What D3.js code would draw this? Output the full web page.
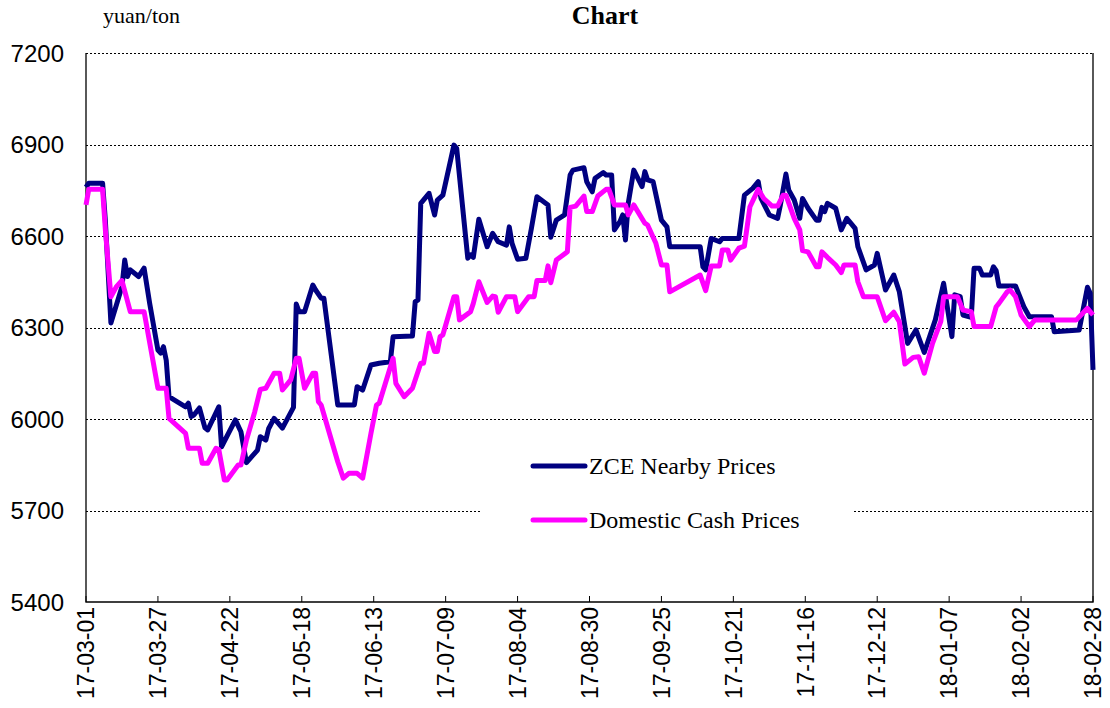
<!DOCTYPE html>
<html>
<head>
<meta charset="utf-8">
<script src="https://cdn.jsdelivr.net/npm/d3@7"></script>
<style>
  body { margin: 0; background: #fff; }
  svg { display: block; }
</style>
</head>
<body>
<div id="chart"></div>
<script>
// ZCE nearby futures, vertices
var zceDates = ["2017-03-01","2017-03-02","2017-03-07","2017-03-08","2017-03-10","2017-03-14","2017-03-15","2017-03-16","2017-03-17","2017-03-20",
  "2017-03-22","2017-03-24","2017-03-27","2017-03-28","2017-03-29","2017-03-30","2017-03-31","2017-04-02","2017-04-06","2017-04-07",
  "2017-04-08","2017-04-09","2017-04-11","2017-04-13","2017-04-14","2017-04-18","2017-04-19","2017-04-24","2017-04-26","2017-04-28",
  "2017-05-02","2017-05-03","2017-05-05","2017-05-06","2017-05-08","2017-05-11","2017-05-15","2017-05-16","2017-05-17","2017-05-19",
  "2017-05-22","2017-05-23","2017-05-25","2017-05-26","2017-05-31","2017-06-06","2017-06-07","2017-06-09","2017-06-12","2017-06-15",
  "2017-06-19","2017-06-20","2017-06-27","2017-06-28","2017-06-29","2017-06-30","2017-07-03","2017-07-05","2017-07-06","2017-07-08",
  "2017-07-12","2017-07-13","2017-07-17","2017-07-18","2017-07-19","2017-07-21","2017-07-24","2017-07-26","2017-07-28","2017-07-31",
  "2017-08-01","2017-08-02","2017-08-04","2017-08-07","2017-08-09","2017-08-11","2017-08-15","2017-08-16","2017-08-18","2017-08-21",
  "2017-08-23","2017-08-24","2017-08-28","2017-08-29","2017-08-31","2017-09-01","2017-09-04","2017-09-05","2017-09-07","2017-09-08",
  "2017-09-10","2017-09-11","2017-09-12","2017-09-13","2017-09-15","2017-09-18","2017-09-19","2017-09-20","2017-09-22","2017-09-25",
  "2017-09-27","2017-09-28","2017-10-09","2017-10-10","2017-10-11","2017-10-13","2017-10-16","2017-10-17","2017-10-23","2017-10-25",
  "2017-10-28","2017-10-30","2017-10-31","2017-11-03","2017-11-06","2017-11-07","2017-11-09","2017-11-10","2017-11-12","2017-11-14",
  "2017-11-15","2017-11-17","2017-11-20","2017-11-21","2017-11-22","2017-11-23","2017-11-24","2017-11-27","2017-11-29","2017-12-01",
  "2017-12-04","2017-12-05","2017-12-08","2017-12-11","2017-12-12","2017-12-15","2017-12-18","2017-12-20","2017-12-23","2017-12-26",
  "2017-12-29","2018-01-02","2018-01-05","2018-01-08","2018-01-09","2018-01-11","2018-01-12","2018-01-15","2018-01-16","2018-01-18",
  "2018-01-19","2018-01-22","2018-01-23","2018-01-24","2018-01-25","2018-01-31","2018-02-03","2018-02-05","2018-02-13","2018-02-14",
  "2018-02-23","2018-02-26","2018-02-27","2018-02-28"];
var zceValues = [6760,6773,6773,6650,6315,6434,6521,6467,6489,6467,
  6495,6380,6226,6216,6237,6193,6073,6062,6040,6052,
  6008,6013,6036,5971,5964,6040,5909,5997,5958,5857,
  5898,5942,5931,5968,6002,5970,6038,6377,6352,6352,
  6439,6423,6396,6396,6046,6046,6106,6095,6177,6183,
  6188,6270,6272,6385,6390,6707,6740,6669,6718,6734,
  6898,6887,6527,6538,6530,6655,6565,6609,6581,6570,
  6630,6576,6524,6527,6625,6729,6702,6596,6652,6669,
  6800,6816,6824,6778,6745,6789,6808,6800,6800,6620,
  6647,6669,6587,6707,6816,6762,6811,6784,6778,6652,
  6630,6565,6565,6499,6489,6592,6581,6592,6592,6734,
  6756,6778,6723,6669,6658,6702,6803,6751,6718,6658,
  6723,6691,6652,6652,6694,6680,6707,6691,6620,6658,
  6625,6565,6489,6505,6543,6423,6472,6417,6248,6292,
  6218,6325,6445,6270,6407,6401,6341,6333,6494,6494,
  6472,6472,6499,6486,6436,6436,6368,6335,6335,6286,
  6292,6432,6412,6161];

// domestic cash prices
var cashDates = ["2017-03-01","2017-03-02","2017-03-07","2017-03-08","2017-03-10","2017-03-12","2017-03-14","2017-03-17","2017-03-22","2017-03-27",
  "2017-03-30","2017-03-31","2017-04-06","2017-04-07","2017-04-11","2017-04-12","2017-04-14","2017-04-17","2017-04-18","2017-04-20",
  "2017-04-21","2017-04-25","2017-04-26","2017-04-28","2017-05-01","2017-05-03","2017-05-05","2017-05-08","2017-05-10","2017-05-11",
  "2017-05-14","2017-05-16","2017-05-17","2017-05-19","2017-05-22","2017-05-23","2017-05-24","2017-05-25","2017-05-31","2017-06-02",
  "2017-06-04","2017-06-07","2017-06-09","2017-06-12","2017-06-14","2017-06-15","2017-06-20","2017-06-21","2017-06-24","2017-06-27",
  "2017-06-30","2017-07-01","2017-07-03","2017-07-05","2017-07-06","2017-07-07","2017-07-08","2017-07-12","2017-07-13","2017-07-14",
  "2017-07-18","2017-07-19","2017-07-21","2017-07-24","2017-07-26","2017-07-27","2017-07-28","2017-07-31","2017-08-03","2017-08-04",
  "2017-08-08","2017-08-10","2017-08-11","2017-08-14","2017-08-15","2017-08-16","2017-08-18","2017-08-22","2017-08-23","2017-08-25",
  "2017-08-28","2017-08-29","2017-08-31","2017-09-02","2017-09-05","2017-09-06","2017-09-08","2017-09-12","2017-09-13","2017-09-15",
  "2017-09-19","2017-09-20","2017-09-23","2017-09-25","2017-09-27","2017-09-28","2017-10-09","2017-10-11","2017-10-13","2017-10-16",
  "2017-10-17","2017-10-19","2017-10-20","2017-10-23","2017-10-25","2017-10-27","2017-10-30","2017-11-01","2017-11-04","2017-11-06",
  "2017-11-08","2017-11-09","2017-11-12","2017-11-14","2017-11-15","2017-11-17","2017-11-20","2017-11-21","2017-11-22","2017-11-24",
  "2017-11-27","2017-11-29","2017-11-30","2017-12-04","2017-12-05","2017-12-07","2017-12-12","2017-12-15","2017-12-18","2017-12-20",
  "2017-12-22","2017-12-25","2017-12-27","2017-12-29","2018-01-01","2018-01-04","2018-01-05","2018-01-10","2018-01-12","2018-01-15",
  "2018-01-16","2018-01-22","2018-01-24","2018-01-25","2018-01-28","2018-01-29","2018-01-31","2018-02-02","2018-02-05","2018-02-07",
  "2018-02-22","2018-02-26","2018-02-28"];
var cashValues = [6702,6753,6753,6620,6401,6434,6454,6352,6352,6101,
  6101,6002,5953,5904,5904,5855,5855,5904,5900,5800,
  5800,5849,5849,5931,6024,6097,6101,6150,6150,6095,
  6128,6199,6199,6101,6150,6150,6057,6046,5860,5806,
  5822,5822,5806,5953,6046,6052,6199,6117,6073,6101,
  6183,6183,6281,6221,6221,6270,6276,6401,6401,6325,
  6352,6379,6450,6382,6403,6401,6350,6401,6401,6352,
  6401,6401,6454,6454,6502,6447,6521,6548,6694,6698,
  6731,6680,6680,6731,6753,6753,6702,6702,6669,6702,
  6642,6636,6576,6505,6505,6417,6472,6421,6502,6502,
  6554,6554,6521,6560,6567,6696,6753,6723,6698,6698,
  6734,6734,6658,6620,6552,6548,6499,6499,6548,6530,
  6505,6480,6505,6505,6450,6401,6401,6322,6350,6319,
  6180,6202,6204,6150,6248,6320,6401,6401,6357,6352,
  6303,6303,6368,6379,6417,6423,6401,6341,6303,6325,
  6325,6363,6341];

var yTicks = [5400,5700,6000,6300,6600,6900,7200];
var xTickDates = ["2017-03-01","2017-03-27","2017-04-22","2017-05-18","2017-06-13","2017-07-09","2017-08-04",
  "2017-08-30","2017-09-25","2017-10-21","2017-11-16","2017-12-12","2018-01-07","2018-02-02","2018-02-28"];

var seriesNames = ["ZCE Nearby Prices","Domestic Cash Prices"];
var seriesColors = ["#000080","#ff00ff"];

var width = 1110, height = 708;
var plotLeft = 86, plotRight = 1093, plotTop = 53, plotBottom = 602;

var parse = d3.timeParse("%Y-%m-%d");
var fmt = d3.timeFormat("%y-%m-%d");

var x = d3.scaleTime().domain([parse("2017-03-01"), parse("2018-02-28")]).range([plotLeft, plotRight]);
var y = d3.scaleLinear().domain([5400, 7200]).range([plotBottom, plotTop]);

var svg = d3.select("#chart").append("svg").attr("width", width).attr("height", height);

// gridlines
svg.append("g").selectAll("line")
  .data(yTicks.filter(function(d) { return d > 5400; }))
  .join("line")
  .attr("x1", plotLeft).attr("x2", plotRight)
  .attr("y1", function(d) { return Math.round(y(d)) + 0.5; }).attr("y2", function(d) { return Math.round(y(d)) + 0.5; })
  .attr("stroke", "#000").attr("stroke-width", 1).attr("stroke-dasharray", "2,2");

// frame: left, bottom, right
svg.append("path")
  .attr("d", "M" + plotLeft + "," + plotTop + "V" + plotBottom + "H" + plotRight + "V" + plotTop)
  .attr("fill", "none").attr("stroke", "#000").attr("stroke-width", 1.3);

// y axis labels
svg.append("g").selectAll("text")
  .data(yTicks).join("text")
  .attr("x", 64).attr("y", function(d) { return y(d); })
  .attr("dy", "0.36em").attr("text-anchor", "end")
  .style("font-family", "Liberation Sans, Arial, sans-serif").style("font-size", "24px")
  .text(function(d) { return d; });

// x ticks
var xt = svg.append("g");
xt.selectAll("line")
  .data(xTickDates).join("line")
  .attr("x1", function(d) { return x(parse(d)); }).attr("x2", function(d) { return x(parse(d)); })
  .attr("y1", plotBottom).attr("y2", plotBottom - 6)
  .attr("stroke", "#000").attr("stroke-width", 1);
xt.selectAll("text")
  .data(xTickDates).join("text")
  .attr("transform", function(d) { return "translate(" + x(parse(d)) + "," + (plotBottom + 5) + ") rotate(-90)"; })
  .attr("dy", "0.36em").attr("text-anchor", "end")
  .style("font-family", "Liberation Sans, Arial, sans-serif").style("font-size", "23px")
  .text(function(d) { return fmt(parse(d)); });

// lines
var line = d3.line()
  .x(function(d) { return x(d.date); })
  .y(function(d) { return y(d.value); });

var zce = zceDates.map(function(d, i) { return {date: parse(d), value: zceValues[i]}; });
var cash = cashDates.map(function(d, i) { return {date: parse(d), value: cashValues[i]}; });

[zce, cash].forEach(function(s, i) {
  svg.append("path").datum(s)
    .attr("d", line)
    .attr("fill", "none")
    .attr("stroke", seriesColors[i])
    .attr("stroke-width", 5)
    .attr("stroke-linejoin", "round");
});

// legend
var lg = svg.append("g");
lg.append("rect").attr("x", 480).attr("y", 440).attr("width", 372).attr("height", 106).attr("fill", "#fff");
seriesNames.forEach(function(name, i) {
  var ly = 466 + i * 54;
  lg.append("line").attr("x1", 533).attr("x2", 585).attr("y1", ly).attr("y2", ly)
    .attr("stroke", seriesColors[i]).attr("stroke-width", 5).attr("stroke-linecap", "round");
  lg.append("text").attr("x", 589).attr("y", ly + 8)
    .style("font-family", "Liberation Serif, Times New Roman, serif").style("font-size", "24px")
    .text(name);
});

// titles
svg.append("text").attr("x", 605).attr("y", 24).attr("text-anchor", "middle")
  .style("font-family", "Liberation Serif, Times New Roman, serif").style("font-size", "26px").style("font-weight", "bold")
  .text("Chart");
svg.append("text").attr("x", 103).attr("y", 23)
  .style("font-family", "Liberation Serif, Times New Roman, serif").style("font-size", "22px")
  .text("yuan/ton");
</script>
</body>
</html>
